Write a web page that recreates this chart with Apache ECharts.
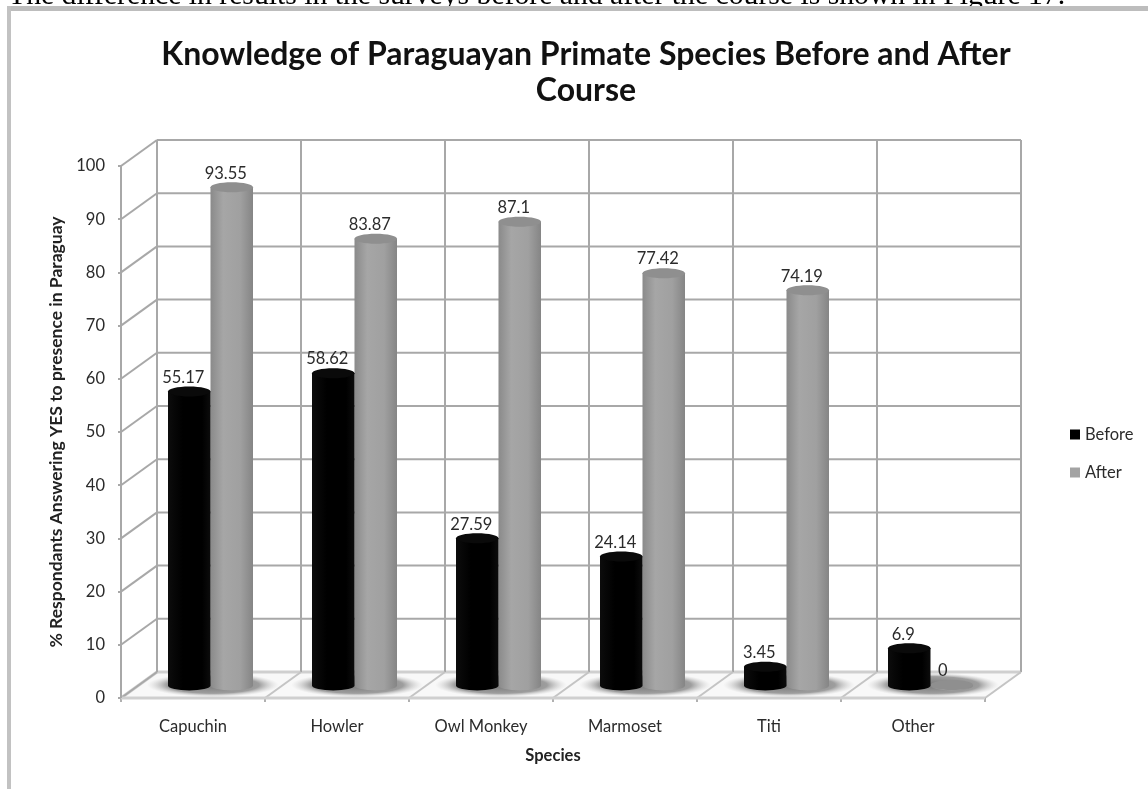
<!DOCTYPE html>
<html>
<head>
<meta charset="utf-8">
<style>html,body{margin:0;padding:0;background:#fff;overflow:hidden}#chart{width:1148px;height:789px}</style>
<script src="https://cdn.jsdelivr.net/npm/echarts@6/dist/echarts.min.js"></script>
</head>
<body>
<div id="chart"></div>
<script>
const species = ['Capuchin', 'Howler', 'Owl Monkey', 'Marmoset', 'Titi', 'Other'];
const before = [55.17, 58.62, 27.59, 24.14, 3.45, 6.9];
const after = [93.55, 83.87, 87.1, 77.42, 74.19, 0];
const yTicks = [0, 10, 20, 30, 40, 50, 60, 70, 80, 90, 100];

// Receding depth of the pseudo-3D box, in pixels
const DX = 36, DY = 26;
const GRID = '#a8a8a8';

const chart = echarts.init(document.getElementById('chart'));

function line(x1, y1, x2, y2, color, width) {
  return { type: 'line', shape: { x1, y1, x2, y2 }, style: { stroke: color || GRID, lineWidth: width || 2 } };
}

// Back wall, side wall and floor of the box, positioned from the axis scales
function renderBox(params, api) {
  const children = [];
  const f0 = api.coord([0, 0]);
  const band = api.size([1, 0])[0];
  const left = f0[0] - band / 2;
  const right = left + band * species.length;
  const base = f0[1];
  const topY = api.coord([0, 100])[1];

  children.push({
    type: 'polygon',
    shape: { points: [[left, base], [left + DX, base - DY], [right + DX, base - DY], [right, base]] },
    style: { fill: '#f8f8f8' }
  });
  yTicks.forEach(t => {
    const y = api.coord([0, t])[1];
    const color = t === 0 ? '#cfcfcf' : GRID;
    children.push(line(left, y, left + DX, y - DY, color, t === 0 ? 3 : 2));
    children.push(line(left + DX, y - DY, right + DX, y - DY, color, t === 0 ? 3 : 2));
  });
  for (let i = 0; i <= species.length; i++) {
    const x = left + band * i;
    children.push(line(x + DX, topY - DY, x + DX, base - DY, GRID, 2));
    children.push(line(x, base, x + DX, base - DY, i === 0 ? GRID : '#c4c4c4', 2));
    children.push(line(x, base, x, base + 4, '#b0b0b0', 2));
  }
  children.push(line(left, base, right, base, '#cfcfcf', 3));
  children.push(line(left, topY, left, base, GRID, 2));
  // Soft shadows cast on the floor around each pair of columns
  const sr = 12;
  species.forEach((_, i) => {
    children.push({
      type: 'circle',
      x: left + band * i + band / 2 + DX / 2 + 2,
      y: base - DY / 2,
      scaleX: 66 / sr,
      scaleY: 1,
      shape: { cx: 0, cy: 0, r: sr },
      style: {
        fill: new echarts.graphic.RadialGradient(0.5, 0.5, 0.5, [
          { offset: 0, color: 'rgba(110,110,110,0.95)' },
          { offset: 0.7, color: 'rgba(135,135,135,0.8)' },
          { offset: 1, color: 'rgba(200,200,200,0)' }
        ])
      }
    });
  });
  return { type: 'group', silent: true, children };
}

// One cylinder per value, standing at mid-depth inside the box
function cylinder(side, palette) {
  return function (params, api) {
    const cat = api.value(0);
    const val = api.value(1);
    const top = api.coord([cat, val]);
    const bottom = api.coord([cat, 0]);
    const w = 42.5, ry = 5;
    const cx = top[0] + DX / 2 - 0.5 + side * w / 2;
    const yT = top[1] - DY / 2;
    const yB = bottom[1] - DY / 2 + 0.5;
    const x0 = cx - w / 2;
    const h = Math.max(yB - yT, 0);
    const d = 'M' + x0 + ' ' + yT + ' L' + x0 + ' ' + yB +
      ' A' + w / 2 + ' ' + ry + ' 0 0 0 ' + (x0 + w) + ' ' + yB +
      ' L' + (x0 + w) + ' ' + yT + ' Z';
    const body = new echarts.graphic.LinearGradient(0, 0, 1, 0, palette.body);
    const children = [];
    if (h > 0) {
      children.push({ type: 'path', shape: { pathData: d, layout: 'cover', x: x0, y: yT, width: w, height: h + ry }, style: { fill: body } });
    }
    children.push({
      type: 'ellipse',
      shape: { cx, cy: yT, rx: h > 0 ? w / 2 : w / 2 - 1, ry: h > 0 ? ry : 4 },
      style: { fill: h > 0 ? palette.top : palette.flat }
    });
    children.push({
      type: 'text',
      style: {
        text: String(val),
        x: cx - (val === 0 ? 9 : 6),
        y: yT - 14,
        align: 'center',
        verticalAlign: 'middle',
        fill: '#2b2b2b',
        font: '16.5px Lato'
      }
    });
    return { type: 'group', children };
  };
}

const blackCyl = {
  body: [{ offset: 0, color: '#0c0c0c' }, { offset: 0.35, color: '#000' }, { offset: 0.8, color: '#000' }, { offset: 1, color: '#0c0c0c' }],
  top: '#0a0a0a',
  flat: '#0a0a0a'
};
const grayCyl = {
  body: [{ offset: 0, color: '#8a8a8a' }, { offset: 0.3, color: '#a6a6a6' }, { offset: 0.7, color: '#a0a0a0' }, { offset: 1, color: '#858585' }],
  top: '#8f8f8f',
  flat: '#4a4a4a'
};

chart.setOption({
  animation: false,
  backgroundColor: '#fff',
  title: {
    text: 'Knowledge of Paraguayan Primate Species Before and After\nCourse',
    left: 581,
    top: 32,
    textAlign: 'center',
    textStyle: { fontFamily: 'Lato', fontWeight: 'bold', fontSize: 32, color: '#111', lineHeight: 36 }
  },
  legend: {
    orient: 'vertical',
    left: 1065,
    top: 421,
    itemWidth: 10,
    itemHeight: 10,
    itemGap: 21,
    icon: 'rect',
    textStyle: { fontFamily: 'Lato', fontSize: 16.5, color: '#2b2b2b' },
    data: ['Before', 'After']
  },
  grid: { left: 121, top: 166, width: 864, height: 532, containLabel: false },
  xAxis: {
    type: 'category',
    data: species,
    name: 'Species',
    nameLocation: 'middle',
    nameGap: 49,
    nameTextStyle: { fontFamily: 'Lato', fontWeight: 'bold', fontSize: 16.5, color: '#222' },
    axisLine: { show: false },
    axisTick: { show: false },
    axisLabel: { margin: 20, fontFamily: 'Lato', fontSize: 16.5, color: '#2b2b2b' }
  },
  yAxis: {
    type: 'value',
    min: 0,
    max: 100,
    interval: 10,
    name: '% Respondants Answering YES to presence in Paraguay',
    nameLocation: 'middle',
    nameGap: 50,
    nameTextStyle: { fontFamily: 'Lato', fontWeight: 'bold', fontSize: 17.5, color: '#222' },
    axisLine: { show: false },
    axisTick: { show: true, length: 3, lineStyle: { color: GRID, width: 2 } },
    axisLabel: { margin: 16, fontFamily: 'Lato', fontSize: 16.5, color: '#2b2b2b' },
    splitLine: { show: false }
  },
  graphic: [
    // Running text of the page above the figure, and the figure's frame
    { type: 'text', left: 8, top: -19, silent: true, style: { text: 'The difference in results in the surveys before and after the course is shown in Figure 17.', font: '29.7px "Liberation Serif"', fill: '#000' } },
    { type: 'rect', shape: { x: 7, y: 6, width: 1141, height: 5 }, style: { fill: '#bdbdbd' } },
    { type: 'rect', shape: { x: 7, y: 6, width: 4, height: 783 }, style: { fill: '#c2c2c2' } }
  ],
  series: [
    { name: 'box', type: 'custom', renderItem: renderBox, data: [[0, 0]], encode: { x: 0, y: 1 }, silent: true, z: 1 },
    { name: 'Before', type: 'custom', renderItem: cylinder(-1, blackCyl), itemStyle: { color: '#000' }, data: before.map((v, i) => [i, v]), encode: { x: 0, y: 1 }, z: 3 },
    { name: 'After', type: 'custom', renderItem: cylinder(1, grayCyl), itemStyle: { color: '#a3a3a3' }, data: after.map((v, i) => [i, v]), encode: { x: 0, y: 1 }, z: 2 }
  ]
});
</script>
</body>
</html>
